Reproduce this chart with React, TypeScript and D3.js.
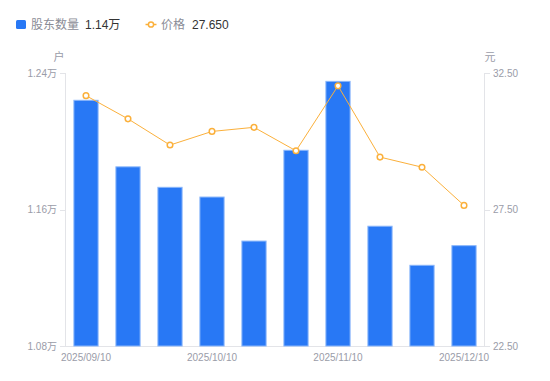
import React from "react";
import * as d3 from "d3";

const dates = ["2025/09/10","2025/09/20","2025/09/30","2025/10/10","2025/10/20","2025/10/31","2025/11/10","2025/11/20","2025/11/30","2025/12/10"];
const holders = [1.224, 1.185, 1.173, 1.1673, 1.1415, 1.1947, 1.2351, 1.1502, 1.1273, 1.1388];
const prices = [31.67, 30.82, 29.86, 30.36, 30.51, 29.65, 32.03, 29.42, 29.05, 27.65];
const leftTicks = [1.08, 1.16, 1.24];
const rightTicks = [22.5, 27.5, 32.5];
const shownDates = ["2025/09/10", "2025/10/10", "2025/11/10", "2025/12/10"];

const W = 550, H = 381;
const m = { left: 65, right: 485, top: 73, bottom: 346 };
const FONT = "'Liberation Sans', 'Noto Sans CJK SC', sans-serif";

export default function App() {
  const x = d3.scaleBand<string>().domain(dates).range([m.left, m.right]).paddingInner(0.4).paddingOuter(0.2);
  const xc = (d: string) => (x(d) as number) + x.bandwidth() / 2;
  const yL = d3.scaleLinear().domain([1.08, 1.24]).range([m.bottom, m.top]);
  const yR = d3.scaleLinear().domain([22.5, 32.5]).range([m.bottom, m.top]);
  const line = d3.line<number>().x((_, i) => xc(dates[i])).y((v) => yR(v));
  const axisColor = "#e3e4e8";
  const labelColor = "#9a9ca8";
  return (
    <svg width={W} height={H} style={{ position: "absolute", left: 0, top: 0, fontFamily: FONT }}>
      <rect width={W} height={H} fill="#fff" />
      {/* legend */}
      <rect x={16} y={20} width={10} height={9} rx={1.5} fill="#2878f5" />
      <text x={31} y={29} fontSize={12} fill="#8a8c96">股东数量</text>
      <text x={85} y={29} fontSize={12} fill="#333">1.14万</text>
      <line x1={145.5} x2={156.5} y1={24.5} y2={24.5} stroke="#fbb03b" strokeWidth={1.5} />
      <circle cx={151} cy={24.5} r={2.6} fill="#fff" stroke="#fbb03b" strokeWidth={1.5} />
      <text x={161} y={29} fontSize={12} fill="#8a8c96">价格</text>
      <text x={192} y={29} fontSize={12} fill="#333">27.650</text>
      {/* units */}
      <text x={59} y={61} fontSize={11} fill={labelColor} textAnchor="middle">户</text>
      <text x={490} y={61} fontSize={11} fill={labelColor} textAnchor="middle">元</text>
      {/* axes */}
      <line x1={m.left + 0.5} x2={m.left + 0.5} y1={m.top} y2={m.bottom} stroke={axisColor} />
      <line x1={m.right - 0.5} x2={m.right - 0.5} y1={m.top} y2={m.bottom} stroke={axisColor} />
      <line x1={m.left} x2={m.right} y1={m.bottom + 0.5} y2={m.bottom + 0.5} stroke={axisColor} />
      {leftTicks.map((t) => (
        <g key={"l" + t}>
          <line x1={m.left - 5} x2={m.left} y1={Math.round(yL(t)) + 0.5} y2={Math.round(yL(t)) + 0.5} stroke={axisColor} />
          <text x={m.left - 8} y={yL(t)} dy="0.35em" fontSize={10} fill={labelColor} textAnchor="end">{t.toFixed(2)}万</text>
        </g>
      ))}
      {rightTicks.map((t) => (
        <g key={"r" + t}>
          <line x1={m.right} x2={m.right + 5} y1={Math.round(yR(t)) + 0.5} y2={Math.round(yR(t)) + 0.5} stroke={axisColor} />
          <text x={m.right + 8} y={yR(t)} dy="0.35em" fontSize={10} fill={labelColor}>{t.toFixed(2)}</text>
        </g>
      ))}
      {shownDates.map((d) => (
        <text key={d} x={xc(d)} y={361} fontSize={10} fill={labelColor} textAnchor="middle">{d}</text>
      ))}
      {/* bars */}
      {holders.map((v, i) => (
        <rect key={i} x={(x(dates[i]) as number) + 0.5} y={yL(v)} width={x.bandwidth() - 1} height={m.bottom - yL(v)}
          fill="#2878f5" stroke="#8ab6fa" strokeWidth={1} />
      ))}
      {/* line */}
      <path d={line(prices) || ""} fill="none" stroke="#fbb03b" strokeWidth={1} />
      {prices.map((v, i) => (
        <circle key={i} cx={xc(dates[i])} cy={yR(v)} r={2.8} fill="#fff" stroke="#fbb03b" strokeWidth={1.5} />
      ))}
    </svg>
  );
}
